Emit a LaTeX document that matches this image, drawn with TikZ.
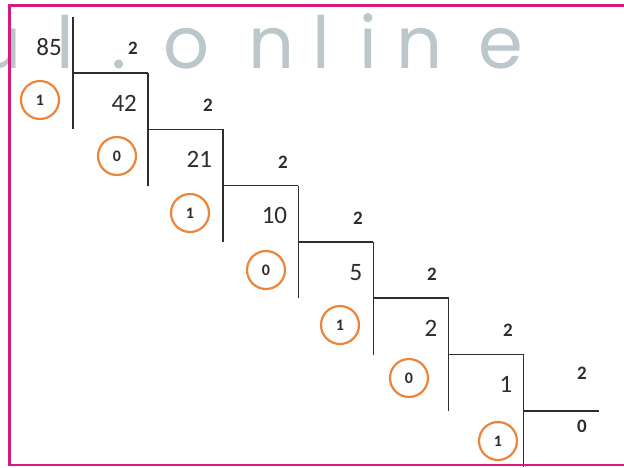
\documentclass[tikz,border=0pt]{standalone}
\usepackage{fontspec}
\setmainfont{Carlito}
\newfontfamily\wmfont{Poppins}
\usetikzlibrary{positioning}
\definecolor{frame}{RGB}{214,26,126}
\definecolor{ring}{RGB}{236,133,58}
\definecolor{ink}{RGB}{45,45,45}
\definecolor{mark}{RGB}{187,199,202}

\begin{document}
\begin{tikzpicture}[x=1pt, y=-1pt,
  num/.style={font=\fontsize{25}{25}\selectfont, text=ink, inner sep=0pt, anchor=east},
  dvs/.style={font=\fontsize{19}{19}\selectfont\bfseries, text=ink, inner sep=0pt, anchor=east},
  rem/.style={circle, draw=ring, line width=2.2pt, minimum size=38pt, inner sep=0pt,
              font=\fontsize{16}{16}\selectfont\bfseries, text=ink},
  bar/.style={draw=ink, line width=1.6pt},
  wm/.style={font=\wmfont\fontsize{72}{72}\selectfont, text=mark, inner sep=0pt, anchor=base}
]
  \useasboundingbox (0,0) rectangle (624,467);
  \fill[white] (0,0) rectangle (624,467);

  % watermark
  \foreach \ch/\xx [count=\i] in {u/-1, l/65, ./119, o/187, n/272, l/321, i/368, n/420, e/501}
    \node[wm] (wm\i) at (\xx,68) {\ch};

  % steps of the ladder
  \foreach \k in {1,...,7} {
    \coordinate (c\k) at ({73+75.1*(\k-1)}, {73+56.3*(\k-1)});
    \draw[bar] (c\k) ++(0,-56.3) -- ++(0,112.6);
    \draw[bar] (c\k) -- ++(75.1,0);
  }

  % quotients
  \foreach \n [count=\k from 0] in {85,42,21,10,5,2,1}
    \node[num] (q\k) at ({62+75.1*\k}, {47+56.3*\k}) {\n};
  \node[dvs] (q7) at (587,426) {0};

  % divisor
  \foreach \xx/\yy [count=\k] in {138/48, 213/105, 288/162, 363/218, 437/274, 513/330, 587/373}
    \node[dvs] (d\k) at (\xx,\yy) {2};

  % remainders
  \foreach \xx/\yy/\r [count=\k] in {40/100/1, 117/156/0, 190/213/1, 266/270/0, 340/325/1, 409/378/0, 498/441/1}
    \node[rem] (r\k) at (\xx,\yy) {\r};

  \draw[frame, line width=2.4pt] (631,5.5) -- (9.3,5.5) -- (9.3,465) -- (631,465);
\end{tikzpicture}
\end{document}
